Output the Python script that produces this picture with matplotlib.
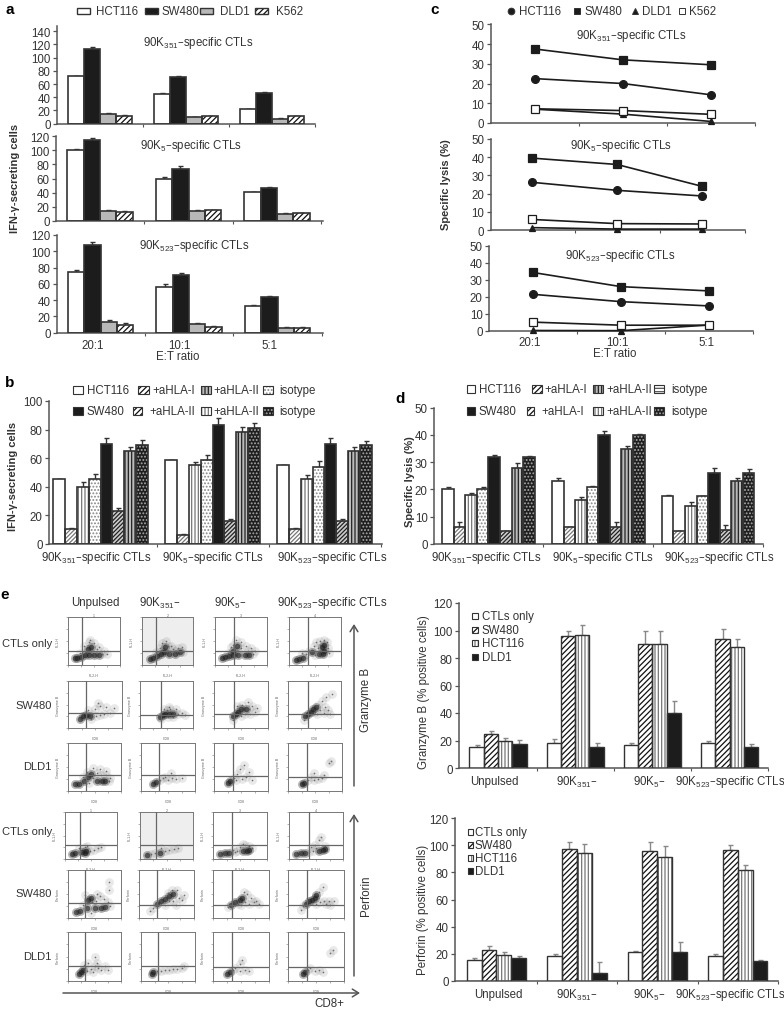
# Figure with ELISPOT, lysis and flow cytometry panels
import matplotlib
matplotlib.use('Agg')
import matplotlib.pyplot as plt
from matplotlib.patches import Rectangle

plt.rcParams['font.family'] = ['Liberation Sans', 'DejaVu Sans']
plt.rcParams['mathtext.default'] = 'regular'
plt.rcParams['hatch.linewidth'] = 0.9

W, H = 784, 1012
DARK = '#333333'
AXC = '#555555'

# ---- panel a
ratios = ['20:1', '10:1', '5:1']
a1_hct, a1_sw, a1_dld, a1_k = [72, 45, 22], [113, 71, 46], [15, 10, 7], [12, 11, 11]
a1_err = [[0.5, 1, 0.5], [2.5, 0.8, 1.5], [0.8, 0.7, 1], [0.5, 0.5, 0.5]]
a2_hct, a2_sw, a2_dld, a2_k = [100, 60, 41], [115, 74, 46], [14, 14, 10], [13, 15, 11]
a2_err = [[1.5, 2.5, 0.5], [2, 3, 2], [1.5, 1.5, 1], [1.5, 1, 1]]
a3_hct, a3_sw, a3_dld, a3_k = [74, 56, 33], [108, 71, 44], [13, 11, 6], [9, 7, 6]
a3_err = [[3, 4, 1], [3, 2, 1.5], [2, 1.5, 0.7], [2.5, 1, 1]]

# ---- panel c
c1_hct, c1_sw, c1_dld, c1_k = [22.5, 20, 14.3], [37.5, 32, 29.5], [7, 4.5, 0.8], [7.2, 6.3, 4.4]
c2_hct, c2_sw, c2_dld, c2_k = [26.2, 21.8, 18.7], [39.5, 36, 24], [1.3, 0.5, 0.5], [5.8, 3.5, 3.3]
c3_hct, c3_sw, c3_dld, c3_k = [21.5, 17.2, 14.7], [34.3, 26, 23.5], [0.3, 0.2, 3.5], [5.2, 3.4, 3.4]

# ---- panel b (series by group: HCT116, aHLA-I, aHLA-II, isotype, SW480, aHLA-I, aHLA-II, isotype)
b_vals = [[45, 59, 55], [10, 6, 10], [40, 55, 45], [45, 59, 54],
          [70, 83, 70], [23, 16, 16], [65, 78, 65], [69, 81, 69]]
b_err = [[0, 0, 0], [1, 0.7, 1], [3, 2, 3], [4, 3, 4],
         [4, 5, 4], [2, 1, 1], [3, 3.5, 2.5], [4, 3.5, 3]]

# ---- panel d
d_vals = [[20, 23, 17.5], [6, 6, 4.5], [18, 16, 14], [20, 21, 17.5],
          [32, 40, 26], [4.5, 6, 5], [28, 35, 23], [32, 40, 26]]
d_err = [[0.8, 1, 0.3], [1.8, 0.3, 0.3], [0.6, 1, 1.2], [0.8, 0.3, 0.2],
         [0.6, 1.4, 1.7], [0.3, 2, 1.8], [1.5, 1, 1.2], [0.3, 0.2, 1.3]]

# ---- panel e, bar charts
e_groups = ['Unpulsed', '90K$_{351}$–', '90K$_{5}$–', '90K$_{523}$–specific CTLs']
gzb_vals = [[15.5, 18.5, 17, 18.5], [25, 96, 90, 94], [19.5, 97, 90, 88], [17.5, 15.5, 40, 15.5]]
gzb_err = [[1.3, 2.5, 1, 1.3], [2, 3.5, 10, 7], [2, 7, 9.5, 6], [3, 2.5, 9, 1.8]]
prf_vals = [[15.5, 18.5, 21, 18.5], [23, 97, 96, 96.5], [19, 94, 91.5, 82], [16.5, 5.5, 21, 14.5]]
prf_err = [[1, 1, 1.2, 1], [3, 5.5, 6.5, 4], [2, 7, 8, 3.5], [2, 8, 7.5, 0.8]]

# ---- panel e, flow plots: points read by eye (log decades, 0 to 4)
gzb_ctl_dense = [
    [(.5, .55), (.7, .6), (1.0, .7), (1.3, .85), (1.6, .85), (2.0, .85), (2.4, .85), (1.5, 1.3), (1.8, 1.5)],
    [(.6, .5), (.9, .6), (1.2, .75), (1.5, .9), (1.7, 1.1), (1.8, 1.5), (2.1, .9), (2.6, .95), (3.0, 1.05)],
    [(.5, .6), (.8, .65), (1.1, .75), (1.4, .85), (1.8, .8), (2.3, .85), (2.6, .85), (1.4, 1.2), (1.7, 1.6)],
    [(.5, .4), (.8, .5), (1.1, .6), (1.8, 1.1), (2.3, .9), (2.6, .9), (2.7, 1.2), (2.5, 1.5), (2.7, 1.7)],
]
gzb_ctl_sparse = [
    [(1.2, 1.6), (1.6, 1.9), (2.0, 1.8), (2.4, 1.5), (2.8, 1.2), (1.9, 1.2), (2.2, 1.3), (1.4, 1.1), (.9, 1.0), (2.6, .9), (3.0, .95), (1.7, 2.1)],
    [(1.4, 1.4), (1.6, 1.8), (2.0, 1.6), (2.4, 1.3), (2.8, 1.4), (3.1, 1.5), (1.9, 2.0), (1.1, 1.1), (2.3, 1.6), (3.2, 1.1), (1.5, 1.2), (2.6, 1.2)],
    [(1.2, 1.5), (1.6, 2.1), (2.0, 1.9), (2.4, 1.6), (2.8, 1.4), (3.1, 1.2), (2.0, 1.4), (1.0, 1.0), (1.4, 1.7), (2.5, 1.2), (2.9, .9), (1.8, 1.2)],
    [(1.3, .9), (1.5, 1.2), (1.9, 1.6), (2.1, 1.9), (2.4, 2.0), (2.9, 1.9), (3.0, 1.4), (2.2, 1.4), (1.0, 1.0), (3.1, 1.0), (2.7, 2.1), (2.0, .8)],
]
gzb_sw_dense = [
    [(.9, .8), (1.1, 1.0), (1.3, 1.1), (1.6, 1.0)],
    [(1.5, .95), (1.7, 1.1), (1.9, 1.2), (2.2, 1.2), (2.5, 1.2)],
    [(1.4, 1.0), (1.6, 1.2), (1.8, 1.4), (2.0, 1.6), (2.4, 1.6)],
    [(1.3, 1.0), (1.5, 1.2), (1.7, 1.4), (1.9, 1.6), (2.1, 1.8)],
]
gzb_sw_sparse = [
    [(1.5, 1.5), (1.8, 1.2), (2.1, 1.0), (2.4, 1.1), (2.7, 1.2), (2.0, 1.6), (2.4, 1.9), (2.8, 1.8), (1.7, .8), (3.1, 1.3), (2.2, 2.1), (3.4, 1.7)],
    [(2.0, 1.5), (2.3, 1.6), (2.6, 1.4), (2.9, 1.2), (3.2, 1.3), (1.8, 1.6), (2.5, .9), (2.1, .9), (3.4, 1.1), (2.7, 1.6), (2.2, 1.8), (1.6, .8)],
    [(1.7, 1.9), (2.1, 2.0), (2.5, 2.2), (2.8, 1.9), (3.0, 1.4), (2.7, 1.2), (2.3, 1.2), (2.0, 1.0), (3.2, 1.7), (1.9, 1.7), (2.6, 1.6), (1.4, .7)],
    [(2.3, 2.0), (2.6, 2.3), (2.9, 2.6), (2.4, 1.5), (2.7, 1.3), (3.0, 1.5), (3.2, 1.2), (2.2, 1.2), (2.0, 1.4), (1.2, .7), (2.8, 1.8), (3.3, 2.9)],
]
gzb_dld_dense = [
    [(.5, .55), (.8, .6), (1.2, .8), (1.5, 1.2), (1.7, 1.4), (2.2, .8), (2.6, .85), (2.8, .8)],
    [(.9, .6), (1.1, .75)],
    [(1.0, .65), (1.2, .8)],
    [(1.0, .55), (1.2, .7)],
]
gzb_dld_sparse = [
    [(1.1, 1.2), (1.4, 1.6), (1.9, 1.9), (2.2, 1.5), (2.5, 1.3), (2.9, 1.3), (3.2, 1.1), (1.9, 1.1), (2.4, 1.8), (1.6, .7), (2.9, 1.7), (3.1, .8)],
    [(1.4, .9), (1.6, 1.1), (1.8, 1.2), (2.0, .9), (2.3, 1.1), (2.6, 1.0), (3.0, 1.1), (2.2, 1.5)],
    [(1.5, 1.1), (1.7, 1.4), (1.9, 1.8), (2.1, 1.0), (2.4, 1.2), (2.6, 1.6), (2.2, 2.2), (2.8, .9), (1.6, .9)],
    [(1.5, .9), (1.7, 1.2), (1.9, 1.5), (2.2, 1.0), (2.5, 1.1), (2.7, 1.3), (3.0, 2.3), (3.2, 2.5), (1.9, .9)],
]
prf_ctl_dense = [
    [(.5, .4), (.8, .5), (1.3, .6), (1.5, .55), (1.6, .7)],
    [(.5, .35), (1.5, .5)],
    [(.5, .45), (.9, .5), (1.2, .5), (2.2, .65), (2.5, .7), (2.7, .8)],
    [(.5, .45), (.9, .5), (1.2, .55), (2.2, .65), (2.5, .75), (2.7, .85)],
]
prf_ctl_sparse = [
    [(1.1, .9), (1.5, 1.0), (1.9, .7), (2.2, .8), (2.5, .9), (2.8, 1.0), (1.7, 1.1), (1.2, .7)],
    [(.8, .4), (1.1, .5), (1.9, .7), (2.2, .75), (2.6, .85), (2.9, .9), (1.6, .9)],
    [(1.5, .8), (1.8, .7), (2.0, 1.0), (2.4, 1.2), (2.7, 1.1), (1.6, .6), (2.9, .9), (2.2, 1.3)],
    [(1.5, .6), (1.8, .7), (1.9, 1.2), (2.2, 1.6), (2.4, 1.9), (2.0, .9), (2.7, 1.1), (1.6, 1.0)],
]
prf_sw_dense = [
    [(.6, .5), (.9, .55), (1.4, .8), (1.5, 1.5), (1.7, 1.7), (2.0, .8), (2.5, .8), (2.8, .9)],
    [(1.3, 1.2), (1.6, 1.4), (1.9, 1.6), (2.2, 1.8), (2.5, 2.0)],
    [(1.3, 1.1), (1.6, 1.3), (1.9, 1.5), (2.1, 1.7)],
    [(1.3, 1.2), (1.5, 1.4), (1.7, 1.5), (1.9, 1.7), (2.0, 1.9)],
]
prf_sw_sparse = [
    [(1.1, 1.1), (1.3, 1.9), (1.8, 1.3), (2.1, 1.4), (2.4, 1.8), (2.7, 1.6), (3.0, 1.3), (3.1, 2.3), (3.2, 1.0), (2.2, 2.0), (3.1, 3.0), (1.7, .4)],
    [(.8, .6), (1.0, .8), (1.9, 1.1), (2.2, 1.4), (2.5, 1.4), (2.8, 2.3), (2.9, 1.7), (3.1, 1.5), (2.4, 2.3), (2.1, 2.1), (3.3, 1.9), (2.7, 1.1)],
    [(1.1, .9), (2.0, 1.1), (2.3, 1.3), (2.6, 1.2), (2.9, 1.3), (2.4, 2.0), (2.7, 1.7), (3.1, 1.4), (2.2, 2.2), (1.8, 1.2), (3.3, 1.2)],
    [(.9, .7), (1.1, 1.0), (2.0, 1.2), (2.3, 1.3), (2.6, 1.4), (2.9, 1.4), (3.3, 1.4), (2.2, 2.2), (2.5, 2.6), (2.7, 1.2), (3.0, 1.1)],
]
prf_dld_dense = [
    [(.8, .55), (1.0, .7), (1.1, .9)],
    [(.8, .55), (.9, .7)],
    [(1.0, .6), (1.2, .75)],
    [(1.1, .55), (1.2, .7)],
]
prf_dld_sparse = [
    [(1.2, 1.3), (1.4, .8), (1.7, 1.0), (2.0, 1.2), (2.3, 1.1), (2.5, .9), (2.8, 1.2), (3.0, .9), (1.9, .7), (2.2, 1.5), (1.5, 1.5), (2.0, 2.0)],
    [(1.2, .8), (1.5, .8), (1.8, .9), (2.1, .9), (2.4, 1.0), (2.7, 1.0), (3.0, 1.1), (3.2, 1.2)],
    [(1.4, .9), (1.6, 1.1), (1.9, 1.4), (2.1, 1.7), (1.9, .8), (2.3, .9), (2.6, .8)],
    [(1.4, .9), (1.6, 1.1), (1.9, .8), (2.2, .9), (2.5, .7), (3.0, 2.3), (3.2, 2.5)],
]

# ---- layout of the flow plots in pixels: left, right, top, bottom, vertical gate, horizontal gate
flow_boxes = [
    [(68, 120, 618, 666, 82, 652), (142, 193, 618, 666, 156, 652), (215, 267, 618, 666, 234, 652), (289, 341, 618, 666, 308, 652)],
    [(68, 122, 682, 729, 86, 714), (140, 193, 682, 729, 161, 716), (214, 268, 682, 729, 234, 715), (288, 341, 682, 729, 308, 715)],
    [(68, 121, 744, 792, 86, 776), (141, 195, 744, 792, 159, 776), (214, 268, 744, 792, 233, 777), (288, 342, 744, 792, 307, 778)],
    [(65, 117, 813, 860, 80, 846), (140, 193, 813, 860, 156, 846), (213, 267, 813, 860, 232, 846), (289, 343, 813, 860, 309, 846)],
    [(68, 121, 871, 919, 85, 904), (139, 194, 871, 919, 157, 906), (213, 269, 871, 919, 232, 906), (288, 344, 871, 919, 307, 906)],
    [(68, 121, 933, 982, 85, 967), (141, 195, 933, 982, 158, 967), (213, 269, 933, 982, 232, 968), (288, 344, 933, 982, 307, 968)],
]
flow_dense = [gzb_ctl_dense, gzb_sw_dense, gzb_dld_dense, prf_ctl_dense, prf_sw_dense, prf_dld_dense]
flow_sparse = [gzb_ctl_sparse, gzb_sw_sparse, gzb_dld_sparse, prf_ctl_sparse, prf_sw_sparse, prf_dld_sparse]
flow_ylabels = ['FL1-H', 'Granzyme B', 'Granzyme B', 'FL1-H', 'Perforin', 'Perforin']
flow_xlabels = ['FL2-H', 'CD8', 'CD8', 'FL2-H', 'CD8', 'CD8']

# bar styles: face, hatch, hatch colour
ST = {
    'white': ('white', None, DARK),
    'black': ('#1c1c1c', None, DARK),
    'grey': ('#b8b8b8', None, DARK),
    'diag': ('white', '//////', '#111111'),
    'diag_l': ('white', '////////', '#777777'),
    'diag_d': ('#cccccc', '////////', '#222222'),
    'vert': ('white', '|||||', '#777777'),
    'vert_d': ('#bbbbbb', '|||||', '#222222'),
    'dots': ('white', '.....', '#888888'),
    'dots_d': ('#1e1e1e', '.....', '#aaaaaa'),
    'horiz': ('white', '-----', '#555555'),
}

fig = plt.figure(figsize=(W / 100, H / 100), dpi=100)


def px_ax(x0, top, x1, bottom):
    return fig.add_axes([x0 / W, 1 - bottom / H, (x1 - x0) / W, (bottom - top) / H])


def style_axis(ax, yticks, ymax):
    ax.set_ylim(0, ymax)
    ax.set_yticks(yticks)
    for s in ['top', 'right']:
        ax.spines[s].set_visible(False)
    for s in ['left', 'bottom']:
        ax.spines[s].set_color(AXC)
        ax.spines[s].set_linewidth(1.1)
    ax.tick_params(axis='y', length=3, width=0.9, color=AXC, labelsize=8.3, labelcolor=DARK, pad=1.5)
    ax.tick_params(axis='x', length=2, width=0.8, color=AXC, labelbottom=False)
    ax.patch.set_alpha(0)


def bar_panel(box, yticks, ymax, c0, step, bw, vals, errs, styles, errc=DARK, lw=1.2):
    x0, top, x1, bottom = box
    ax = px_ax(x0, top, x1, bottom)
    n = len(vals[0])
    k = len(vals)
    ax.set_xlim((x0 - c0) / step, (x1 - c0) / step)
    w = bw / step
    for i, (v, e, s) in enumerate(zip(vals, errs, styles)):
        pos = [g + (i - (k - 1) / 2) * w for g in range(n)]
        face, hatch, hc = ST[s]
        ax.errorbar(pos, v, yerr=[[0] * n, e], fmt='none', ecolor=errc, elinewidth=1, capsize=1.8, capthick=1, zorder=1)
        ax.bar(pos, v, w, color=face, hatch=hatch, edgecolor=hc, linewidth=0, zorder=2)
        ax.bar(pos, v, w, fill=False, edgecolor=DARK, linewidth=lw, zorder=3)
    ax.set_xticks([g + 0.5 for g in range(n - 1)] + [n - 0.5])
    style_axis(ax, yticks, ymax)
    return ax


def line_panel(box, c0, step, hct, sw, dld, k):
    x0, top, x1, bottom = box
    ax = px_ax(x0, top, x1, bottom)
    ax.set_xlim((x0 - c0) / step, (x1 - c0) / step)
    xs = range(3)
    for v, mk, ms, face in [(hct, 'o', 5.6, '#1c1c1c'), (sw, 's', 5.2, '#1c1c1c'),
                            (dld, '^', 5, '#1c1c1c'), (k, 's', 5.2, 'white')]:
        ax.plot(xs, v, color='#1c1c1c', lw=1.2, marker=mk, ms=ms, mfc=face, mec='#1c1c1c', mew=0.9, clip_on=False, zorder=3)
    ax.set_xticks([0.5, 1.5, 2.5])
    style_axis(ax, [0, 10, 20, 30, 40, 50], 50)
    return ax


# panel a
a_styles = ['white', 'black', 'grey', 'diag']
bar_panel((57, 27, 315, 124.7), [0, 20, 40, 60, 80, 100, 120, 140], 148, 100, 86, 16, [a1_hct, a1_sw, a1_dld, a1_k], a1_err, a_styles)
bar_panel((56, 137, 323, 222), [0, 20, 40, 60, 80, 100, 120], 120, 100, 88.5, 16.3, [a2_hct, a2_sw, a2_dld, a2_k], a2_err, a_styles)
bar_panel((57, 236, 323, 333.7), [0, 20, 40, 60, 80, 100, 120], 120, 100.5, 88.5, 16.3, [a3_hct, a3_sw, a3_dld, a3_k], a3_err, a_styles)

# panel c
line_panel((490.7, 25.3, 755, 124), 534.7, 88, c1_hct, c1_sw, c1_dld, c1_k)
line_panel((490.7, 140, 744.7, 231), 532, 85, c2_hct, c2_sw, c2_dld, c2_k)
line_panel((489, 246.7, 753, 332), 533, 88, c3_hct, c3_sw, c3_dld, c3_k)

# panels b and d
bd_styles = ['white', 'diag_l', 'vert', 'dots', 'black', 'diag_d', 'vert_d', 'dots_d']
bar_panel((49, 402, 381.7, 544.7), [0, 20, 40, 60, 80, 100], 100, 100.5, 112, 11.9, b_vals, b_err, bd_styles)
bar_panel((434, 408.7, 763, 544.7), [0, 10, 20, 30, 40, 50], 50, 488.5, 110, 11.6, d_vals, d_err, bd_styles)

# panel e bars
e_styles = ['white', 'diag', 'vert', 'black']
bar_panel((459, 604, 768.3, 769), [0, 20, 40, 60, 80, 100, 120], 120, 498, 77.3, 14.3, gzb_vals, gzb_err, e_styles, errc='#888888', lw=1.0)
bar_panel((455, 819.3, 778, 981.7), [0, 20, 40, 60, 80, 100, 120], 120, 496.5, 80.7, 14.9, prf_vals, prf_err, e_styles, errc='#888888', lw=1.0)

# flow plots: soft haze under the read points, since the originals are dense and blurred
for r, row in enumerate(flow_boxes):
    for c, (x0, x1, top, bottom, vg, hg) in enumerate(row):
        ax = px_ax(x0, top, x1, bottom)
        ax.set_xlim(0, 4)
        ax.set_ylim(0, 4)
        if c == 1 and r in (0, 3):
            ax.set_facecolor('#eeeeee')
        dx, dy = zip(*flow_dense[r][c])
        sx, sy = zip(*flow_sparse[r][c])
        ax.scatter(sx, sy, s=40, color='#777777', alpha=0.16, linewidths=0, zorder=1)
        ax.scatter(dx, dy, s=42, color='#444444', alpha=0.38, linewidths=0, zorder=2)
        ax.scatter(dx, dy, s=16, color='#1a1a1a', alpha=0.6, linewidths=0, zorder=3)
        ax.scatter(sx, sy, s=1.5, color='#555555', alpha=0.8, linewidths=0, zorder=3)
        ax.axvline((vg - x0) / (x1 - x0) * 4, color='#666666', lw=0.9, zorder=4)
        ax.axhline((bottom - hg) / (bottom - top) * 4, color='#666666', lw=0.9, zorder=4)
        ax.set_xticks([0, 1, 2, 3, 4])
        ax.set_yticks([0, 1, 2, 3, 4])
        ax.set_xticklabels([])
        ax.set_yticklabels([])
        ax.tick_params(length=1.5, width=0.4, color='#777777')
        for s in ax.spines.values():
            s.set_color('#777777')
            s.set_linewidth(0.7)
        ax.set_xlabel(flow_xlabels[r], fontsize=2.6, color='#666666', labelpad=0.8)
        ax.set_ylabel(flow_ylabels[r], fontsize=2.6, color='#666666', labelpad=0.8)
        if r in (0, 3):
            ax.set_title(str(c + 1), fontsize=2.6, color='#666666', pad=1)

# overlay in pixels for the labels and hand-made legends
ov = fig.add_axes([0, 0, 1, 1], zorder=20)
ov.set_xlim(0, W)
ov.set_ylim(H, 0)
ov.axis('off')


def txt(x, y, s, size=8.3, ha='center', va='center', weight='normal', rot=0, color=DARK):
    ov.text(x, y, s, fontsize=size, ha=ha, va=va, fontweight=weight, rotation=rot, color=color)


def swatch(x0, x1, y, h, style, lw=1.0):
    face, hatch, hc = ST[style]
    ov.add_patch(Rectangle((x0, y - h / 2), x1 - x0, h, facecolor=face, hatch=hatch, edgecolor=hc, linewidth=0))
    ov.add_patch(Rectangle((x0, y - h / 2), x1 - x0, h, fill=False, edgecolor=DARK, linewidth=lw))


# letters
for x, y, s in [(10, 10, 'a'), (435, 10, 'c'), (10, 383, 'b'), (400, 399, 'd'), (5, 595, 'e')]:
    txt(x, y, s, size=11, weight='bold', color='black')

# titles
title_351 = '90K$_{351}$–specific CTLs'
title_5 = '90K$_{5}$–specific CTLs'
title_523 = '90K$_{523}$–specific CTLs'
txt(198, 43, title_351)
txt(191, 146, title_5)
txt(194, 246, title_523)
txt(631, 36, title_351)
txt(621, 146, title_5)
txt(620, 256, title_523)
for x, s in zip([96, 213, 332], [title_351, title_5, title_523]):
    txt(x, 558, s)
for x, s in zip([486, 603, 719], [title_351, title_5, title_523]):
    txt(x, 558, s)

# y labels
txt(15, 178, 'IFN-γ-secreting cells', weight='bold', rot=90, size=8)
txt(446, 185, 'Specific lysis (%)', weight='bold', rot=90, size=8)
txt(13, 476, 'IFN-γ-secreting cells', weight='bold', rot=90, size=8)
txt(410, 482, 'Specific lysis (%)', weight='bold', rot=90, size=8)
txt(424, 692, 'Granzyme B (% positive cells)', rot=90, size=8.3)
txt(423, 910, 'Perforin (% positive cells)', rot=90, size=8.3)

# category labels
for x, s in zip([93, 179, 269], ratios):
    txt(x, 346, s)
txt(178, 357, 'E:T ratio')
for x, s in zip([530, 617, 706], ratios):
    txt(x, 343, s)
txt(615, 354, 'E:T ratio')
for x, s in zip([494, 577, 649, 730], e_groups):
    txt(x, 782, s)
for x, s in zip([498, 577, 649, 730], e_groups):
    txt(x, 995, s)

# legend a
for x0, tx, st, s in [(77, 96, 'white', 'HCT116'), (145, 162, 'black', 'SW480'),
                      (200, 220, 'grey', 'DLD1'), (255, 276, 'diag', 'K562')]:
    swatch(x0, x0 + 13, 12, 6.5, st)
    txt(tx, 12, s, ha='left')

# legend c
for mx, tx, mk, face, s in [(511, 519, 'o', '#1c1c1c', 'HCT116'), (577, 585, 's', '#1c1c1c', 'SW480'),
                            (635, 642, '^', '#1c1c1c', 'DLD1'), (682, 689, 's', 'white', 'K562')]:
    ov.plot([mx], [11.5], marker=mk, ms=4.8, mfc=face, mec='#333333', mew=0.7)
    txt(tx, 12, s, ha='left')

# legend b
for x0, x1, tx, y, st, s in [(73, 83, 87, 391, 'white', 'HCT116'), (138, 149, 152, 391, 'diag', '+aHLA-I'),
                             (201, 211, 213, 391, 'vert_d', '+aHLA-II'), (263, 273, 279, 391, 'dots', 'isotype'),
                             (73, 83, 87, 412, 'black', 'SW480'), (133, 142, 149, 412, 'diag', '+aHLA-II'),
                             (201, 211, 213, 412, 'vert', '+aHLA-II'), (263, 273, 279, 412, 'dots_d', 'isotype')]:
    swatch(x0, x1, y, 8, st, lw=0.8)
    txt(tx, y, s, ha='left')

# legend d
for x0, x1, tx, y, st, s in [(467, 475, 479, 390, 'white', 'HCT116'), (532, 542, 544, 390, 'diag', '+aHLA-I'),
                             (593, 603, 606, 390, 'vert_d', '+aHLA-II'), (654, 664, 671, 390, 'horiz', 'isotype'),
                             (467, 475, 479, 412, 'black', 'SW480'), (527, 534, 541, 412, 'diag', '+aHLA-I'),
                             (593, 603, 606, 412, 'vert', '+aHLA-II'), (654, 664, 671, 412, 'dots_d', 'isotype')]:
    swatch(x0, x1, y, 8, st, lw=0.8)
    txt(tx, y, s, ha='left')

# legends of the two e bar charts
e_names = ['CTLs only', 'SW480', 'HCT116', 'DLD1']
for y, st, s in zip([617, 631, 644, 658], e_styles, e_names):
    swatch(472, 478, y, 6, st, lw=0.8)
    txt(482, y, s, ha='left')
for y, st, s in zip([833, 846, 859, 872], e_styles, e_names):
    swatch(468, 473, y, 6, st, lw=0.8)
    txt(475, y, s, ha='left')

# flow headers, row labels and arrows
for x, s in zip([95, 160, 230, 332], ['Unpulsed', '90K$_{351}$–', '90K$_{5}$–', title_523]):
    txt(x, 603, s)
for y, s in zip([644, 706, 767, 832, 894, 957], ['CTLs only', 'SW480', 'DLD1', 'CTLs only', 'SW480', 'DLD1']):
    txt(52, y, s, ha='right', size=8)
arrow = dict(arrowstyle='->,head_width=0.28,head_length=0.45', color='#555555', lw=1.1, shrinkA=0, shrinkB=0)
ov.annotate('', xy=(354, 625), xytext=(354, 787), arrowprops=arrow)
ov.annotate('', xy=(354, 815), xytext=(354, 977), arrowprops=arrow)
ov.annotate('', xy=(360, 994), xytext=(63, 994), arrowprops=arrow)
txt(366, 700, 'Granzyme B', rot=90)
txt(366, 896, 'Perforin', rot=90)
txt(329, 1004, 'CD8+')

fig.savefig('out.png', dpi=100)
